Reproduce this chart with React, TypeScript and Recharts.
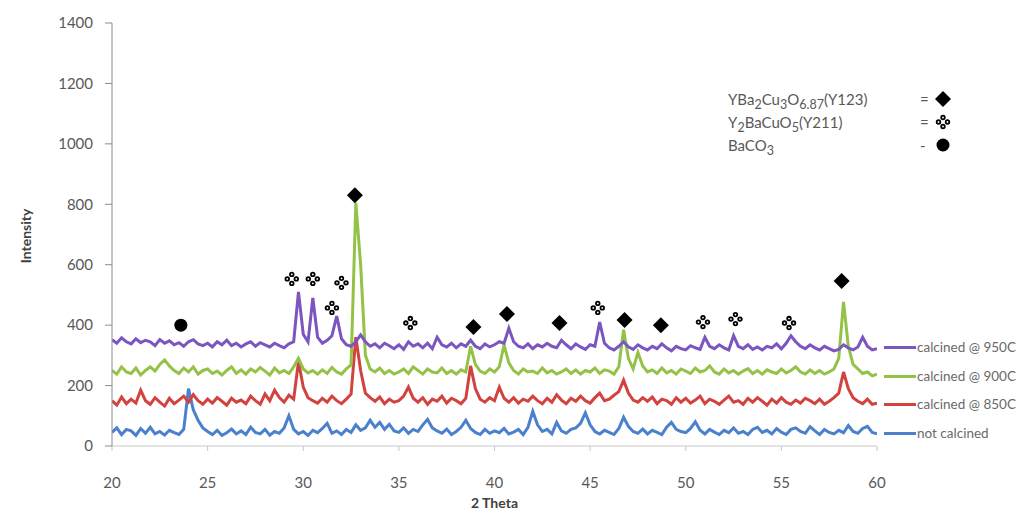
import React from 'react';
import { ComposedChart, Line, Scatter, XAxis, YAxis } from 'recharts';

// 2 theta grid, 0.25 deg step
const theta = [
  20, 20.25, 20.5, 20.75, 21, 21.25, 21.5, 21.75, 22, 22.25, 22.5, 22.75, 23, 23.25, 23.5, 23.75,
  24, 24.25, 24.5, 24.75, 25, 25.25, 25.5, 25.75, 26, 26.25, 26.5, 26.75, 27, 27.25, 27.5, 27.75,
  28, 28.25, 28.5, 28.75, 29, 29.25, 29.5, 29.75, 30, 30.25, 30.5, 30.75, 31, 31.25, 31.5, 31.75,
  32, 32.25, 32.5, 32.75, 33, 33.25, 33.5, 33.75, 34, 34.25, 34.5, 34.75, 35, 35.25, 35.5, 35.75,
  36, 36.25, 36.5, 36.75, 37, 37.25, 37.5, 37.75, 38, 38.25, 38.5, 38.75, 39, 39.25, 39.5, 39.75,
  40, 40.25, 40.5, 40.75, 41, 41.25, 41.5, 41.75, 42, 42.25, 42.5, 42.75, 43, 43.25, 43.5, 43.75,
  44, 44.25, 44.5, 44.75, 45, 45.25, 45.5, 45.75, 46, 46.25, 46.5, 46.75, 47, 47.25, 47.5, 47.75,
  48, 48.25, 48.5, 48.75, 49, 49.25, 49.5, 49.75, 50, 50.25, 50.5, 50.75, 51, 51.25, 51.5, 51.75,
  52, 52.25, 52.5, 52.75, 53, 53.25, 53.5, 53.75, 54, 54.25, 54.5, 54.75, 55, 55.25, 55.5, 55.75,
  56, 56.25, 56.5, 56.75, 57, 57.25, 57.5, 57.75, 58, 58.25, 58.5, 58.75, 59, 59.25, 59.5, 59.75,
  60,
];

const notCalcined = [
  45, 60, 38, 55, 50, 35, 58, 42, 62, 40, 48, 36, 52, 44, 38, 55,
  190, 120, 85, 60, 48, 38, 52, 35, 44, 56, 40, 50, 38, 62, 45, 40,
  55, 36, 48, 42, 60, 100, 55, 40, 48, 35, 52, 44, 58, 75, 42, 50,
  38, 55, 45, 70, 52, 60, 85, 62, 78, 55, 72, 50, 45, 60, 42, 55,
  48, 70, 88, 60, 50, 42, 56, 38, 48, 62, 85, 58, 45, 38, 55, 42,
  50, 44, 58, 40, 46, 55, 38, 62, 115, 70, 48, 55, 40, 78, 50, 42,
  55, 60, 75, 110, 70, 48, 40, 52, 45, 38, 58, 95, 65, 48, 42, 56,
  40, 52, 45, 38, 62, 78, 55, 48, 44, 58, 80, 52, 40, 55, 46, 38,
  52, 44, 60, 42, 48, 38, 55, 62, 45, 52, 40, 58, 46, 38, 55, 60,
  48, 42, 64, 50, 38, 55, 45, 40, 52, 44, 68, 48, 42, 58, 65, 45,
  40,
];

const calcined850 = [
  150, 135, 162, 140, 155, 142, 185, 150, 138, 160, 145, 132, 158, 140, 152, 165,
  145, 170, 150, 138, 155, 142, 160, 148, 135, 158, 145, 152, 140, 165, 150, 138,
  172, 150, 185, 160, 145, 168, 155, 280, 195, 160, 150, 142, 158, 145, 165, 150,
  140, 155, 172, 360, 250, 175, 160, 148, 162, 140, 155, 145, 150, 165, 195, 158,
  145, 160, 138, 155, 148, 165, 142, 158, 150, 140, 158, 265, 190, 155, 145, 160,
  150, 195, 158, 145, 160, 142, 155, 148, 165, 150, 140, 158, 145, 170, 152, 140,
  158, 148, 165, 150, 142, 160, 175, 150, 155, 168, 180, 218, 175, 152, 145, 160,
  148, 162, 140, 155, 150, 138, 160, 145, 158, 142, 152, 165, 140, 155, 148, 138,
  152, 165, 145, 150, 138, 158, 145, 160, 148, 135, 155, 142, 160, 145, 138, 152,
  142, 158, 150, 140, 155, 138, 148, 160, 175, 245, 190, 160, 148, 140, 155, 138,
  142,
];

const calcined900 = [
  250, 238, 262, 245, 240, 258, 235, 250, 262, 248, 270, 285, 265, 250, 240, 258,
  245, 262, 238, 250, 255, 240, 248, 235, 250, 262, 240, 252, 238, 255, 245, 260,
  248, 235, 258, 242, 250, 240, 262, 290, 255, 242, 250, 238, 252, 240, 260, 245,
  238, 255, 268, 805, 600, 300, 255, 245, 258, 240, 250, 238, 245, 255, 240, 262,
  250, 238, 255, 245, 242, 258, 240, 250, 238, 252, 245, 330, 270, 248, 240, 255,
  245, 262, 335, 275, 250, 238, 255, 245, 248, 240, 258, 242, 250, 238, 245, 255,
  240, 252, 238, 250, 245, 258, 240, 252, 248, 238, 262, 385, 290, 255, 310, 265,
  245, 252, 240, 258, 242, 250, 238, 255, 248, 240, 258, 245, 250, 265, 245, 238,
  255, 242, 250, 238, 248, 256, 240, 250, 238, 252, 245, 240, 255, 242, 250, 262,
  245, 238, 252, 240, 250, 238, 245, 255, 290, 477, 330, 270, 255, 240, 245, 232,
  238,
];

const calcined950 = [
  352, 340, 358, 345, 338, 355, 342, 350, 345, 332, 352, 340, 348, 335, 342, 330,
  345, 352, 338, 332, 340, 328, 345, 335, 350, 332, 340, 328, 338, 345, 330, 342,
  335, 328, 340, 332, 325, 338, 345, 510, 370, 345, 490, 360, 340, 350, 365, 430,
  355, 335, 330, 345, 368, 345, 330, 338, 325, 340, 332, 322, 335, 320, 345, 330,
  338, 325, 340, 322, 360, 335, 328, 340, 325, 338, 330, 350, 330, 322, 338, 328,
  335, 345, 340, 390, 345, 330, 325, 338, 322, 335, 328, 340, 330, 325, 350, 335,
  322, 338, 328, 320, 335, 330, 410, 340, 325, 318, 330, 345, 328, 320, 335, 325,
  318, 330, 322, 338, 325, 315, 330, 322, 318, 332, 325, 320, 360, 330, 322, 335,
  325, 318, 365, 330, 322, 335, 320, 328, 318, 330, 325, 338, 322, 340, 365, 345,
  330, 322, 335, 325, 318, 330, 322, 315, 320, 335, 325, 318, 328, 360, 330, 318,
  322,
];

// phase markers above the peaks
const y123Theta = [32.7, 38.9, 40.65, 43.4, 46.8, 48.7, 58.15];
const y123Height = [830, 394, 437, 407, 417, 400, 546];
const y211Theta = [29.4, 30.5, 31.5, 32.0, 35.6, 45.4, 50.9, 52.6, 55.4];
const y211Height = [553, 553, 457, 540, 407, 457, 410, 420, 407];
const baco3Theta = [23.6];
const baco3Height = [400];

const xTicks = [20, 25, 30, 35, 40, 45, 50, 55, 60];
const yTicks = [0, 200, 400, 600, 800, 1000, 1200, 1400];

const seriesNames = ['calcined @ 950C', 'calcined @ 900C', 'calcined @ 850C', 'not calcined'];
const seriesColors = ['#7b55c0', '#93c247', '#d2433f', '#4a80cc'];

const data = theta.map((t, i) => ({
  theta: t,
  s0: notCalcined[i],
  s850: calcined850[i],
  s900: calcined900[i],
  s950: calcined950[i],
}));

const toPoints = (ts: number[], hs: number[]) => ts.map((t, i) => ({ theta: t, h: hs[i] }));

const FONT = 'Lato, "Open Sans", sans-serif';

const Diamond = ({ cx, cy }: any) => (
  <polygon points={`${cx},${cy - 8} ${cx + 8},${cy} ${cx},${cy + 8} ${cx - 8},${cy}`} fill="#000" />
);

const Cross = ({ cx, cy }: any) => (
  <g fill="#fff" stroke="#000" strokeWidth={1.8}>
    <circle cx={cx} cy={cy - 4.5} r={1.8} />
    <circle cx={cx + 4.5} cy={cy} r={1.8} />
    <circle cx={cx} cy={cy + 4.5} r={1.8} />
    <circle cx={cx - 4.5} cy={cy} r={1.8} />
  </g>
);

const Dot = ({ cx, cy }: any) => <circle cx={cx} cy={cy} r={6.5} fill="#000" />;

const MiniIcon = ({ kind }: { kind: string }) => (
  <svg width={18} height={18} style={{ display: 'block' }}>
    {kind === 'd' && <Diamond cx={9} cy={9} />}
    {kind === 'c' && <Cross cx={9} cy={9} />}
    {kind === 'o' && <Dot cx={9} cy={9} />}
  </svg>
);

const phaseRows = [
  { label: (<>YBa<sub>2</sub>Cu<sub>3</sub>O<sub>6.87</sub>(Y123)</>), sign: '=', kind: 'd' },
  { label: (<>Y<sub>2</sub>BaCuO<sub>5</sub>(Y211)</>), sign: '=', kind: 'c' },
  { label: (<>BaCO<sub>3</sub></>), sign: '-', kind: 'o' },
];

const legendY = [347, 376, 404, 433];

export default function App() {
  return (
    <div style={{ position: 'absolute', left: 0, top: 0, width: 1027, height: 518, overflow: 'hidden', background: '#fff', fontFamily: FONT }}>
      <ComposedChart
        width={1027}
        height={518}
        data={data}
        margin={{ top: 23, right: 150, left: 52, bottom: 22 }}
      >
        <XAxis
          dataKey="theta"
          type="number"
          domain={[20, 60]}
          ticks={xTicks}
          allowDataOverflow
          height={50}
          stroke="#c8c8c8"
          tickSize={5}
          tickMargin={26}
          tick={{ fill: '#595959', fontSize: 15, fontFamily: FONT }}
          label={{ value: '2 Theta', position: 'bottom', offset: 2, fill: '#404040', fontSize: 14, fontWeight: 700, fontFamily: FONT }}
        />
        <YAxis
          type="number"
          domain={[0, 1400]}
          ticks={yTicks}
          width={60}
          stroke="#8c8c8c"
          tickSize={7}
          tickMargin={12}
          tick={{ fill: '#595959', fontSize: 15, fontFamily: FONT }}
          label={() => (
            <text x={25} y={236} transform="rotate(-90 25 236)" textAnchor="middle" dominantBaseline="central"
              fill="#404040" fontSize={14} fontWeight={700} fontFamily={FONT}>
              Intensity
            </text>
          )}
        />
        <Line dataKey="s0" stroke={seriesColors[3]} strokeWidth={3} dot={false} isAnimationActive={false} type="linear" />
        <Line dataKey="s850" stroke={seriesColors[2]} strokeWidth={3} dot={false} isAnimationActive={false} type="linear" />
        <Line dataKey="s900" stroke={seriesColors[1]} strokeWidth={3} dot={false} isAnimationActive={false} type="linear" />
        <Line dataKey="s950" stroke={seriesColors[0]} strokeWidth={3} dot={false} isAnimationActive={false} type="linear" />
        <Scatter data={toPoints(y123Theta, y123Height)} dataKey="h" isAnimationActive={false}
          shape={(p: any) => <Diamond cx={p.cx} cy={p.cy} />} />
        <Scatter data={toPoints(y211Theta, y211Height)} dataKey="h" isAnimationActive={false}
          shape={(p: any) => <Cross cx={p.cx} cy={p.cy} />} />
        <Scatter data={toPoints(baco3Theta, baco3Height)} dataKey="h" isAnimationActive={false}
          shape={(p: any) => <Dot cx={p.cx} cy={p.cy} />} />
      </ComposedChart>

      {/* phase key, top right */}
      <div style={{ position: 'absolute', left: 728, top: 88, fontSize: 15, color: '#595959', lineHeight: '23px' }}>
        {phaseRows.map((r, i) => (
          <div key={i} style={{ position: 'relative', height: 23, width: 240, whiteSpace: 'nowrap' }}>
            <span>{r.label}</span>
            <span style={{ position: 'absolute', left: 192, top: 0 }}>{r.sign}</span>
            <span style={{ position: 'absolute', left: 206, top: 2 }}><MiniIcon kind={r.kind} /></span>
          </div>
        ))}
      </div>

      {/* series legend at right */}
      {seriesNames.map((n, i) => (
        <div key={n} style={{ position: 'absolute', left: 884, top: legendY[i] - 9, height: 18, display: 'flex', alignItems: 'center', whiteSpace: 'nowrap' }}>
          <span style={{ display: 'inline-block', width: 32, height: 3, background: seriesColors[i] }} />
          <span style={{ fontSize: 13.5, color: '#6a6a6a', marginLeft: 1 }}>{n}</span>
        </div>
      ))}
    </div>
  );
}
